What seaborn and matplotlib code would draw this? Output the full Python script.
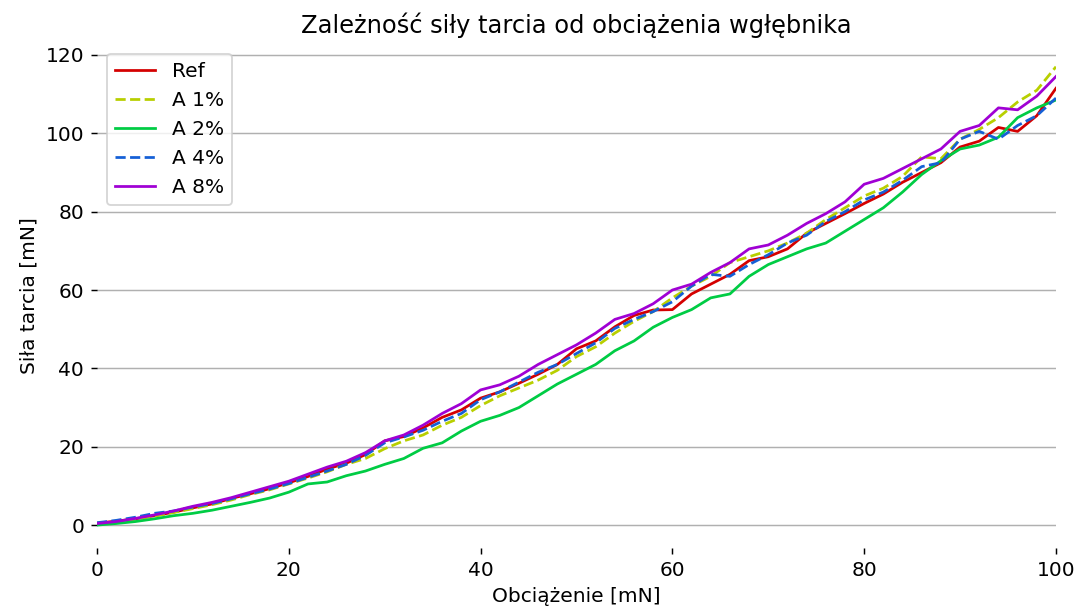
import matplotlib
matplotlib.use("Agg")
import matplotlib.pyplot as plt
import seaborn as sns
import pandas as pd

# load in mN, sampled every 2 mN
load = list(range(0, 101, 2))

ref = [0.5, 1.0, 1.6, 2.4, 3.3, 4.4, 5.4, 6.8, 8.0, 9.3,
       10.8, 12.4, 14.3, 15.8, 18.0, 21.5, 22.6, 24.8, 27.5, 29.4,
       32.4, 34.0, 36.2, 38.5, 41.0, 45.0, 47.0, 50.6, 53.5, 54.9,
       55.0, 59.0, 61.5, 64.0, 67.5, 68.5, 70.5, 74.5, 77.0, 79.5,
       82.1, 84.5, 87.5, 90.0, 92.5, 96.5, 98.0, 101.5, 100.5, 104.5,
       111.5]
a1 = [0.3, 0.8, 1.5, 2.3, 3.2, 4.2, 5.2, 6.4, 7.8, 9.0,
      10.5, 12.0, 13.6, 15.5, 17.0, 19.5, 21.5, 23.0, 25.5, 27.5,
      30.5, 33.0, 35.0, 37.0, 39.5, 43.0, 45.5, 49.0, 52.0, 54.5,
      58.0, 61.0, 63.5, 67.0, 68.5, 70.0, 72.0, 74.5, 78.0, 81.0,
      84.0, 86.0, 89.0, 94.0, 93.5, 98.5, 101.0, 104.0, 108.0, 111.0,
      117.0]
a2 = [0.0, 0.4, 0.9, 1.6, 2.4, 3.0, 3.8, 4.8, 5.8, 6.9,
      8.4, 10.5, 11.0, 12.6, 13.8, 15.5, 17.0, 19.6, 21.0, 24.0,
      26.5, 28.0, 30.0, 33.0, 36.0, 38.5, 41.0, 44.5, 47.0, 50.5,
      53.0, 55.0, 58.0, 59.0, 63.5, 66.5, 68.5, 70.5, 72.0, 75.0,
      78.0, 81.0, 85.0, 89.5, 93.0, 96.0, 97.0, 99.0, 104.0, 106.5,
      108.5]
a4 = [0.6, 1.2, 2.0, 3.0, 3.6, 4.6, 5.5, 6.7, 8.0, 9.2,
      10.6, 12.2, 13.8, 15.5, 17.8, 21.0, 22.5, 24.2, 26.5, 28.5,
      32.0, 34.0, 36.5, 39.0, 41.0, 43.8, 46.5, 50.2, 52.5, 54.5,
      57.0, 61.0, 64.0, 63.5, 66.5, 69.0, 72.0, 74.0, 77.5, 80.0,
      83.0, 85.0, 88.0, 91.5, 92.5, 98.5, 100.5, 98.5, 102.0, 104.5,
      109.0]
a8 = [0.4, 0.9, 1.7, 2.6, 3.6, 4.8, 5.8, 7.0, 8.4, 9.8,
      11.2, 13.0, 14.8, 16.3, 18.5, 21.5, 23.0, 25.5, 28.5, 31.0,
      34.5, 35.8, 38.0, 41.0, 43.5, 46.0, 49.0, 52.5, 54.0, 56.5,
      60.0, 61.5, 64.5, 67.0, 70.5, 71.5, 74.0, 77.0, 79.5, 82.5,
      87.0, 88.5, 91.0, 93.5, 96.0, 100.5, 102.0, 106.5, 106.0, 109.5,
      114.5]

series = {"Ref": ref, "A 1%": a1, "A 2%": a2, "A 4%": a4, "A 8%": a8}
colors = {"Ref": "#d40000", "A 1%": "#b8cf00", "A 2%": "#00cc44",
          "A 4%": "#1560d6", "A 8%": "#a000d4"}
styles = {"Ref": "-", "A 1%": "--", "A 2%": "-", "A 4%": "--", "A 8%": "-"}

plt.rcParams["font.size"] = 11

fig, ax = plt.subplots(figsize=(1075 / 132, 611 / 132), dpi=132)
fig.subplots_adjust(left=0.0902, right=0.9823, bottom=0.1031, top=0.9283)

for name, vals in series.items():
    df = pd.DataFrame({"x": load, "y": vals})
    sns.lineplot(data=df, x="x", y="y", color=colors[name], linestyle=styles[name],
                 linewidth=1.5, label=name, ax=ax)

ax.set_xlim(0, 100)
ax.set_title("Zależność siły tarcia od obciążenia wgłębnika")
ax.set_xlabel("Obciążenie [mN]")
ax.set_ylabel("Siła tarcia [mN]")
ax.grid(True, axis="y", color="#b0b0b0", linewidth=0.8)
ax.set_axisbelow(True)
for sp in ax.spines.values():
    sp.set_visible(False)
ax.legend(loc="upper left")

fig.savefig("out.png", dpi=132)
